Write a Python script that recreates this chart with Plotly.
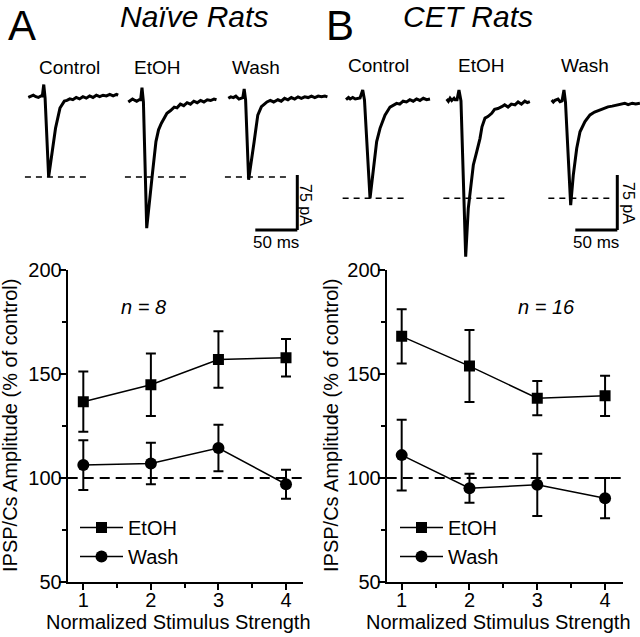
import plotly.graph_objects as go

W, H = 640, 637
FONT = "Arial, 'Liberation Sans', Helvetica, sans-serif"

# ---------------- summary data (bottom panels) ----------------
stim = [1, 2, 3, 4]
x_tick_labels = ["1", "2", "3", "4"]
y_ticks = [50, 100, 150, 200]

naive_etoh = [136.7, 144.8, 157.0, 157.8]
naive_etoh_err = [14.5, 15.0, 13.6, 9.0]
naive_wash = [106.2, 107.0, 114.4, 97.0]
naive_wash_err = [12.0, 10.0, 11.2, 7.0]

cet_etoh = [168.1, 153.8, 138.4, 139.5]
cet_etoh_err = [13.0, 17.3, 8.2, 9.7]
cet_wash = [111.0, 95.1, 96.7, 90.3]
cet_wash_err = [17.0, 7.0, 15.0, 9.7]

control_level = 100

# ---------------- example traces (time in ms, current in pA re. baseline) ----------------
naive_control_t = [0, 3, 6, 9, 12, 15, 16.7, 18.4, 20, 24.2, 27.2, 32.4, 37.7, 42.9, 46, 49.4, 53, 57, 61, 65,
                   69, 73, 77, 81, 85, 89, 93, 97, 101, 105, 107]
naive_control_i = [-1, 1, 2, 0, -1, 1, 1, 16.6, -2, -109.5, -86, -43, -15.5, -6, -5, -3, -4, -1, -3, 0,
                   -2, 1, -1, 2, 0, 2, 1, 3, 1, 3, 2]
naive_etoh_t = [0, 3, 5, 8, 10, 13, 14.7, 16.3, 18, 21.9, 25.2, 28.5, 32.9, 36, 39.4, 43, 46, 50, 54.7, 58,
                62, 66, 70, 74, 78, 82, 86, 90, 94, 98, 102, 105]
naive_etoh_i = [-2, 1, 2, 0, -1, 1, 1, 17.5, -2, -174, -142, -102, -56, -40, -31, -24, -17.5, -14, -9, -10,
                -5, -7, -3, -5, -1, -3, 0, -2, 1, 0, 2, 1]
naive_wash_t = [0, 3, 6, 9, 12.7, 15, 17.3, 18.9, 20.6, 24.2, 27.2, 30.8, 35.1, 39.4, 43, 46, 50, 54, 59, 63,
                67, 71, 75, 79, 83, 87, 91, 95, 99, 103, 107, 111, 115, 118]
naive_wash_i = [0, 2, 1, 3, -1, 0, 1, 12.7, -2, -111, -84, -59, -23, -11.5, -8, -5, -3, -5, -2, -4,
                0, -2, 1, -1, 2, 0, 2, 1, 3, 1, 3, 2, 3, 2]

cet_control_t = [0, 3, 5, 8, 11, 14, 16.7, 19.9, 22, 28.6, 32.5, 36.5, 40.5, 46.4, 52.4, 56, 60.3, 64, 68, 72,
                 76, 80, 84, 88, 92, 96, 100]
cet_control_i = [-1, 2, 0, 2, 0, 1, 1.4, 12.3, -1.4, -135.4, -94.5, -58, -40, -22, -11, -9, -6, -7, -3, -4,
                 -1, -3, 0, -2, 1, -1, 0]
cet_etoh_t = [0, 2, 4, 6, 8.7, 10, 12.3, 14.6, 17, 22.6, 25.7, 28.9, 31.7, 35.7, 39.6, 42, 45.6, 49, 53.6, 57,
              61, 65.5, 69, 73, 77, 81.3, 85, 89, 93, 96, 99]
cet_etoh_i = [0, -3, 1, -2, 1, -1, -1, 12.3, -2.7, -215, -149, -117, -90, -72, -54, -38, -26, -24, -19.5, -14,
              -13, -10.5, -8, -11, -7, -8, -4, -7, -3, -5, -3.7]
cet_wash_t = [0, 2, 4, 7.5, 10, 12.3, 14.6, 16.4, 22.6, 25.7, 29.8, 33.7, 39.6, 45.6, 51, 57.5, 62, 67, 72,
              77.4, 82, 87, 91, 96, 100, 105]
cet_wash_i = [1.4, -1.4, 1, 2.7, -1, 0, 15, -1.4, -142, -101, -64.5, -42, -28, -19, -15, -12, -10, -8, -7,
              -5.5, -5, -3, -5, -3, -4, -3]

scale_ms = 50
scale_pa = 75

# ---------------- layout constants (pixels) ----------------
MS_PER_PX = 50 / 42.0
PA_PER_PX = 75 / 55.0

# trace placement: (start x px, baseline y px)
pos = {
    "naive_control": (28.3, 96.7), "naive_etoh": (128.3, 100.5), "naive_wash": (228.3, 98.3),
    "cet_control": (346.0, 99.0), "cet_etoh": (446.7, 99.0), "cet_wash": (551.7, 101.0),
}
scalebar_corner = {"naive": (297.3, 230.0), "cet": (617.3, 230.0)}


def px(x, y):
    return x / W, 1 - y / H


fig = go.Figure()

# ---- top traces on an overlay axis covering the whole figure ----
traces = {
    "naive_control": (naive_control_t, naive_control_i),
    "naive_etoh": (naive_etoh_t, naive_etoh_i),
    "naive_wash": (naive_wash_t, naive_wash_i),
    "cet_control": (cet_control_t, cet_control_i),
    "cet_etoh": (cet_etoh_t, cet_etoh_i),
    "cet_wash": (cet_wash_t, cet_wash_i),
}
for key, (ts, cur) in traces.items():
    x0, y0 = pos[key]
    fig.add_trace(go.Scatter(
        x=[x0 * MS_PER_PX + t for t in ts],
        y=[-y0 * PA_PER_PX + c for c in cur],
        mode="lines", line=dict(color="black", width=3),
        xaxis="x3", yaxis="y3", showlegend=False, hoverinfo="skip"))

shapes = []
for grp in ("naive", "cet"):
    cx0, cy0 = pos[grp + "_control"]
    level = -cy0 * PA_PER_PX + min(traces[grp + "_control"][1])
    for cond in ("control", "etoh", "wash"):
        sx, _ = pos[grp + "_" + cond]
        shapes.append(dict(type="line", xref="x3", yref="y3",
                           x0=sx * MS_PER_PX - 4, x1=sx * MS_PER_PX + 70, y0=level, y1=level,
                           line=dict(color="black", width=1.6, dash="6px,5px")))
    bx, by = scalebar_corner[grp]
    bxm, bym = bx * MS_PER_PX, -by * PA_PER_PX
    shapes.append(dict(type="line", xref="x3", yref="y3", x0=bxm - scale_ms, x1=bxm, y0=bym, y1=bym,
                       line=dict(color="black", width=3)))
    shapes.append(dict(type="line", xref="x3", yref="y3", x0=bxm, x1=bxm, y0=bym, y1=bym + scale_pa,
                       line=dict(color="black", width=3)))

# ---- bottom panels ----
def add_series(y, err, name, symbol, xa, ya, legend):
    fig.add_trace(go.Scatter(
        x=stim, y=y, name=name, mode="lines+markers",
        line=dict(color="black", width=1.5),
        marker=dict(symbol=symbol, size=11 if symbol == "square" else 12, color="black"),
        error_y=dict(type="data", array=err, visible=True, color="black", thickness=2, width=5),
        xaxis=xa, yaxis=ya, legend=legend, hoverinfo="skip"))


add_series(naive_etoh, naive_etoh_err, "EtOH", "square", "x", "y", "legend")
add_series(naive_wash, naive_wash_err, "Wash", "circle", "x", "y", "legend")
add_series(cet_etoh, cet_etoh_err, "EtOH", "square", "x2", "y2", "legend2")
add_series(cet_wash, cet_wash_err, "Wash", "circle", "x2", "y2", "legend2")

for xr in ("x", "x2"):
    shapes.append(dict(type="line", xref=xr + " domain", yref=xr.replace("x", "y"),
                       x0=0, x1=1, y0=control_level, y1=control_level,
                       line=dict(color="black", width=2, dash="10px,6px")))

y_dom = [1 - 582 / H, 1 - 270 / H]
common_x = dict(showline=True, linecolor="black", linewidth=2, ticks="outside", ticklen=6, tickwidth=2,
                tickcolor="black", tickvals=stim, ticktext=x_tick_labels, showgrid=False, zeroline=False,
                automargin=False, ticklabelstandoff=-7,
                tickfont=dict(size=20, color="black", family=FONT),
                minor=dict(ticks="outside", dtick=0.5, tick0=0, ticklen=4, tickwidth=2, tickcolor="black"))
common_y = dict(showline=True, linecolor="black", linewidth=2, ticks="outside", ticklen=7, tickwidth=2,
                tickcolor="black", tickvals=y_ticks, range=[50, 200], showgrid=False, zeroline=False,
                automargin=False, ticklabelstandoff=-7,
                tickfont=dict(size=20, color="black", family=FONT),
                minor=dict(ticks="outside", dtick=25, tick0=0, ticklen=4, tickwidth=2, tickcolor="black"),
                domain=y_dom)

legend_common = dict(font=dict(size=20, color="black", family=FONT), bgcolor="rgba(0,0,0,0)",
                     xanchor="left", yanchor="top", tracegroupgap=0, itemwidth=43)

annotations = []


def ann(text, x, y, size, italic=False, angle=0):
    xx, yy = px(x, y)
    annotations.append(dict(text=f"<i>{text}</i>" if italic else text, x=xx, y=yy, xref="paper", yref="paper",
                            showarrow=False, xanchor="center", yanchor="middle", textangle=angle,
                            font=dict(size=size, color="black", family=FONT)))


ann("A", 22, 25, 42)
ann("B", 340, 25, 42)
ann("Naïve Rats", 194, 16, 30, italic=True)
ann("CET Rats", 468, 16, 30, italic=True)
for lbl, x, y in [("Control", 69.5, 67), ("EtOH", 157, 67), ("Wash", 256, 67),
                  ("Control", 378.5, 65), ("EtOH", 481, 65), ("Wash", 585, 65)]:
    ann(lbl, x, y, 19)
ann("75 pA", 306, 205, 16, angle=90)
ann("75 pA", 629, 203, 16, angle=90)
ann("50 ms", 276, 243, 17)
ann("50 ms", 596, 243, 17)
ann("n = 8", 143, 307, 20, italic=True)
ann("n = 16", 546, 307, 20, italic=True)
ann("Normalized Stimulus Strength", 178, 622, 20)
ann("Normalized Stimulus Strength", 498, 622, 20)
ann("IPSP/Cs Amplitude (% of control)", 10, 426, 20, angle=-90)
ann("IPSP/Cs Amplitude (% of control)", 331, 426, 20, angle=-90)

lx1, ly1 = px(75, 508)
lx2, ly2 = px(395, 508)

fig.update_layout(
    width=W, height=H, margin=dict(l=0, r=0, t=0, b=0, pad=0, autoexpand=False),
    paper_bgcolor="white", plot_bgcolor="rgba(0,0,0,0)",
    font=dict(family=FONT, color="black"),
    xaxis=dict(domain=[67.7 / W, 302.7 / W], range=[0.769, 4.247], anchor="y", **common_x),
    yaxis=dict(anchor="x", **common_y),
    xaxis2=dict(domain=[386.7 / W, 622.7 / W], range=[0.779, 4.26], anchor="y2", **common_x),
    yaxis2=dict(anchor="x2", **common_y),
    xaxis3=dict(domain=[0, 1], range=[0, W * MS_PER_PX], visible=False, anchor="y3", fixedrange=True,
                automargin=False),
    yaxis3=dict(domain=[0, 1], range=[-H * PA_PER_PX, 0], visible=False, anchor="x3", fixedrange=True,
                automargin=False),
    legend=dict(x=lx1, y=ly1, **legend_common),
    legend2=dict(x=lx2, y=ly2, **legend_common),
    shapes=shapes, annotations=annotations,
)

fig.write_html("out.html", config={"displayModeBar": False},
               post_script="document.body.style.margin='0';document.body.style.overflow='hidden';")
